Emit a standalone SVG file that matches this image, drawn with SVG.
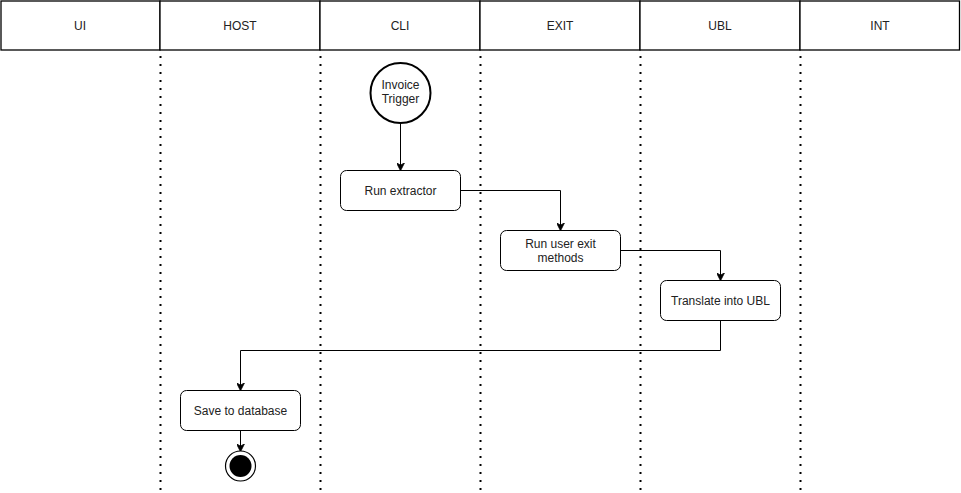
<svg xmlns="http://www.w3.org/2000/svg" width="961" height="493" viewBox="0 0 961 493">
<style>
  .hdr { fill: #ffffff; stroke: #000000; stroke-width: 1.3; }
  .lane { stroke: #000000; stroke-width: 2; stroke-dasharray: 2 6; fill: none; }
  .box { fill: #ffffff; stroke: #000000; stroke-width: 1; }
  .txt { font-family: "Liberation Sans", Arial, Helvetica, sans-serif; font-size: 12px; fill: #222222; text-anchor: middle; dominant-baseline: central; }
  .edge { fill: none; stroke: #000000; stroke-width: 1; }
</style>
<defs>
  <marker id="arrow" viewBox="0 0 10 10" refX="9" refY="5" markerWidth="8" markerHeight="8" markerUnits="userSpaceOnUse" orient="auto">
    <path d="M0,0 L10,5 L0,10 L3,5 Z" fill="#000000" stroke="#000000" stroke-width="1"/>
  </marker>
</defs>
<rect width="961" height="493" fill="#ffffff"/>

<g id="lanes">
  <g id="lane-ui"><rect class="hdr" x="1" y="1" width="159" height="49"/><text class="txt" x="80" y="25.5">UI</text></g>
  <g id="lane-host"><rect class="hdr" x="160" y="1" width="160" height="49"/><text class="txt" x="240" y="25.5">HOST</text></g>
  <g id="lane-cli"><rect class="hdr" x="320" y="1" width="160" height="49"/><text class="txt" x="400" y="25.5">CLI</text></g>
  <g id="lane-exit"><rect class="hdr" x="480" y="1" width="160" height="49"/><text class="txt" x="560" y="25.5">EXIT</text></g>
  <g id="lane-ubl"><rect class="hdr" x="640" y="1" width="160" height="49"/><text class="txt" x="720" y="25.5">UBL</text></g>
  <g id="lane-int"><rect class="hdr" x="800" y="1" width="159.5" height="49"/><text class="txt" x="880" y="25.5">INT</text></g>
  <line class="lane" x1="160.5" y1="56" x2="160.5" y2="493"/>
  <line class="lane" x1="320.5" y1="56" x2="320.5" y2="493"/>
  <line class="lane" x1="480.5" y1="56" x2="480.5" y2="493"/>
  <line class="lane" x1="640.5" y1="56" x2="640.5" y2="493"/>
  <line class="lane" x1="800.5" y1="56" x2="800.5" y2="493"/>
</g>

<g id="connectors">
  <path class="edge" d="M400.5,123 L400.5,170" marker-end="url(#arrow)"/>
  <path class="edge" d="M460.5,190.5 L560.5,190.5 L560.5,230" marker-end="url(#arrow)"/>
  <path class="edge" d="M620.5,250.5 L720.5,250.5 L720.5,280" marker-end="url(#arrow)"/>
  <path class="edge" d="M720.5,320.5 L720.5,350.5 L240.5,350.5 L240.5,390" marker-end="url(#arrow)"/>
  <path class="edge" d="M240.5,430.5 L240.5,451" marker-end="url(#arrow)"/>
</g>

<g id="start">
  <circle cx="400.5" cy="93" r="30" fill="#ffffff" stroke="#000000" stroke-width="2"/>
  <text class="txt" x="400.5" y="85">Invoice</text>
  <text class="txt" x="400.5" y="99">Trigger</text>
</g>

<g id="run-extractor">
  <rect class="box" x="340.5" y="170.5" width="120" height="40" rx="6" ry="6"/>
  <text class="txt" x="400.5" y="190.5">Run extractor</text>
</g>

<g id="run-user-exit">
  <rect class="box" x="500.5" y="230.5" width="120" height="40" rx="6" ry="6"/>
  <text class="txt" x="560.5" y="243.5">Run user exit</text>
  <text class="txt" x="560.5" y="257.5">methods</text>
</g>

<g id="translate-ubl">
  <rect class="box" x="660.5" y="280.5" width="120" height="40" rx="6" ry="6"/>
  <text class="txt" x="720.5" y="300.5">Translate into UBL</text>
</g>

<g id="save-db">
  <rect class="box" x="180.5" y="390.5" width="120" height="40" rx="6" ry="6"/>
  <text class="txt" x="240.5" y="410.5">Save to database</text>
</g>

<g id="end">
  <circle cx="240.5" cy="466" r="15" fill="#ffffff" stroke="#000000" stroke-width="1.2"/>
  <circle cx="240.5" cy="466" r="11" fill="#000000"/>
</g>
</svg>
